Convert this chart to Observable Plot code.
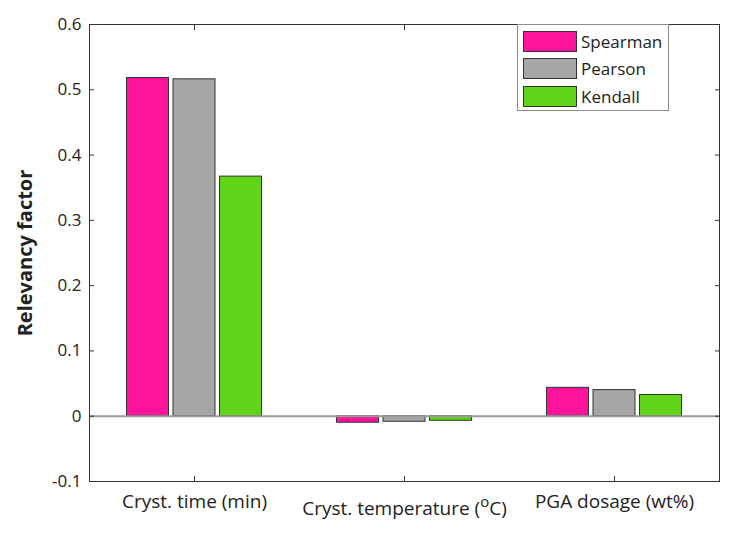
<!DOCTYPE html>
<html>
<head>
<meta charset="utf-8">
<script src="https://cdn.jsdelivr.net/npm/d3@7"></script>
<script src="https://cdn.jsdelivr.net/npm/@observablehq/plot@0.6"></script>
<style>
  html, body { margin: 0; padding: 0; background: #fff; }
  #wrap { position: relative; width: 742px; height: 536px; font-family: "Open Sans", sans-serif; }
  #legend { position: absolute; left: 517px; top: 24px; width: 152px; height: 87px; border: 1px solid #8c8c8c; background: #fff; box-sizing: border-box; }
  .item { position: absolute; left: 5px; height: 22px; display: flex; align-items: center; font-size: 17px; color: #222; }
  .sw { width: 54px; height: 21px; border: 1px solid #333; box-sizing: border-box; margin-right: 4px; }
</style>
</head>
<body>
<div id="wrap"></div>
<script>
const categories = ["Cryst. time (min)", "Cryst. temperature (°C)", "PGA dosage (wt%)"];
const series = ["Spearman", "Pearson", "Kendall"];
const spearman = [0.518, -0.010, 0.0435];
const pearson = [0.516, -0.0085, 0.040];
const kendall = [0.367, -0.007, 0.0325];
const colors = ["#ff149b", "#a6a6a6", "#62d417"];
const yTicks = [-0.1, 0, 0.1, 0.2, 0.3, 0.4, 0.5, 0.6];
const yLabel = "Relevancy factor";

const valuesBySeries = [spearman, pearson, kendall];
const rows = series.map((s, j) => categories.map((c, i) => ({category: c, series: s, value: valuesBySeries[j][i]})));
const offsets = [-46.5, 0, 46.5];

const plot = Plot.plot({
  width: 742,
  height: 536,
  marginLeft: 89,
  marginRight: 23,
  marginTop: 24,
  marginBottom: 55,
  style: {fontFamily: "Open Sans, sans-serif", background: "#fff", color: "#222"},
  x: {domain: categories, padding: 0, axis: null},
  y: {domain: [-0.1, 0.6], axis: null},
  marks: [
    ...rows.map((data, j) => Plot.barY(data, {
      x: "category", y: "value", fill: colors[j], stroke: "#333", strokeWidth: 1,
      insetLeft: 84, insetRight: 84, dx: offsets[j]
    })),
    Plot.ruleY([0], {stroke: "#9a9a9a", strokeWidth: 2}),
    Plot.frame({stroke: "#333", strokeWidth: 1}),
    Plot.axisY({ticks: yTicks, anchor: "left", tickSize: 5, dx: 5, fill: "none", label: null, stroke: "#333"}),
    Plot.axisY({ticks: yTicks, anchor: "right", tickSize: 5, dx: -5, fill: "none", label: null, stroke: "#333"}),
    Plot.axisY({ticks: yTicks, anchor: "left", tickSize: 0, tickPadding: 8, fontSize: 17, label: null, tickFormat: d => String(d), fill: "#222"}),
    Plot.axisX({anchor: "bottom", tickSize: 5, dy: -5, fill: "none", label: null, stroke: "#333"}),
    Plot.axisX({anchor: "top", tickSize: 5, dy: 5, fill: "none", label: null, stroke: "#333"}),
    Plot.axisX({anchor: "bottom", tickSize: 0, tickPadding: 13, fontSize: 19, label: null, fill: "#222"}),
    Plot.text([yLabel], {frameAnchor: "left", textAnchor: "middle", rotate: -90, dx: -64, fontSize: 20, fontWeight: "bold", fill: "#222"})
  ]
});

// superscript degree sign in the temperature label, shifted down like the original
d3.select(plot).selectAll("text").each(function() {
  const t = d3.select(this);
  if (t.text().includes("°C")) {
    const parts = t.text().split("°");
    t.text(null);
    t.append("tspan").text(parts[0]);
    t.append("tspan").attr("dy", -8).attr("font-size", 15).text("o");
    t.append("tspan").attr("dy", 8).text(parts[1]);
    const tr = t.attr("transform") || "";
    t.attr("transform", tr + " translate(0,7)");
  }
});

const wrap = document.getElementById("wrap");
wrap.appendChild(plot);

const legend = document.createElement("div");
legend.id = "legend";
series.forEach((s, j) => {
  const item = document.createElement("div");
  item.className = "item";
  item.style.top = (5 + j * 27.5) + "px";
  const sw = document.createElement("div");
  sw.className = "sw";
  sw.style.background = colors[j];
  const lab = document.createElement("span");
  lab.textContent = s;
  item.appendChild(sw);
  item.appendChild(lab);
  legend.appendChild(item);
});
wrap.appendChild(legend);
</script>
</body>
</html>
